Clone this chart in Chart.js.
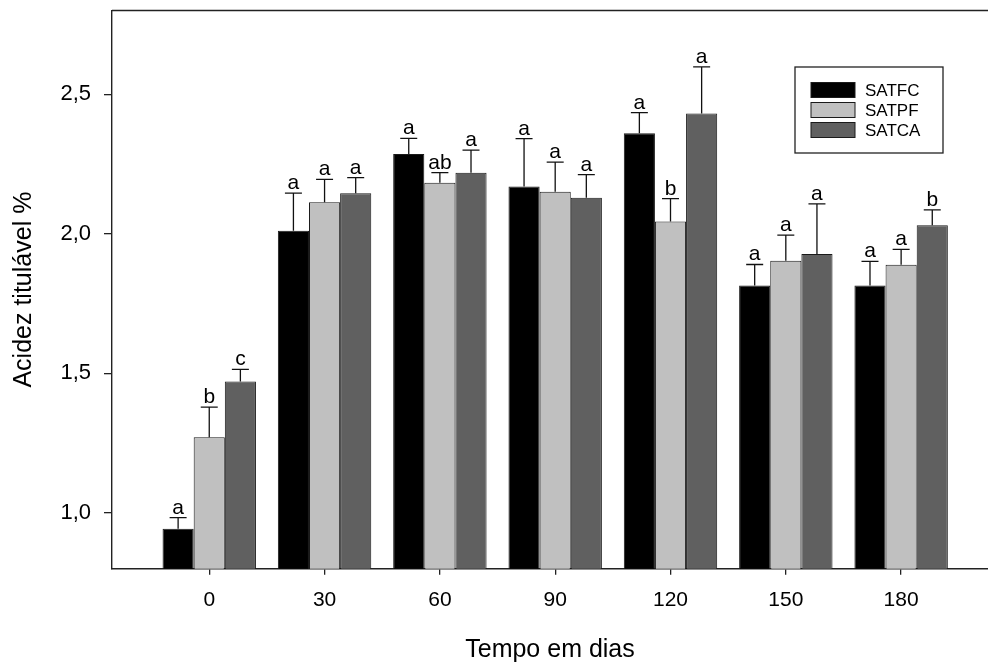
<!DOCTYPE html>
<html>
<head>
<meta charset="utf-8">
<title>Acidez titulável</title>
<script src="https://cdn.jsdelivr.net/npm/chart.js"></script>
<style>
  html, body { margin: 0; padding: 0; background: #fff; }
  #wrap { width: 988px; height: 664px; }
</style>
</head>
<body>
<div id="wrap"><canvas id="acidezChart" width="988" height="664"></canvas></div>
<script>
// tempo (dias)
const days = [0, 30, 60, 90, 120, 150, 180];

// médias e desvios por tratamento
const satfc = [0.943, 2.011, 2.286, 2.169, 2.360, 1.815, 1.815];
const satfcErr = [0.040, 0.135, 0.056, 0.172, 0.074, 0.075, 0.086];
const satfcLetters = ['a', 'a', 'a', 'a', 'a', 'a', 'a'];

const satpf = [1.271, 2.113, 2.183, 2.151, 2.044, 1.903, 1.889];
const satpfErr = [0.108, 0.082, 0.036, 0.106, 0.082, 0.092, 0.055];
const satpfLetters = ['b', 'a', 'ab', 'a', 'b', 'a', 'a'];

const satca = [1.471, 2.145, 2.219, 2.129, 2.431, 1.928, 2.031];
const satcaErr = [0.043, 0.056, 0.081, 0.083, 0.167, 0.179, 0.055];
const satcaLetters = ['c', 'a', 'a', 'a', 'a', 'a', 'b'];

const yTicks = [1.0, 1.5, 2.0, 2.5];
const xTicks = days;

const FONT = '"Liberation Sans", Arial, Helvetica, sans-serif';
Chart.defaults.font.family = FONT;
Chart.defaults.color = '#000';

function toPoints(values) {
  return days.map((d, i) => ({ x: d, y: values[i] }));
}

// barras de erro (só para cima) com letras
const errorBars = {
  id: 'errorBars',
  afterDatasetsDraw(chart) {
    const ctx = chart.ctx;
    const yScale = chart.scales.y;
    ctx.save();
    ctx.strokeStyle = '#111';
    ctx.lineWidth = 1.3;
    ctx.fillStyle = '#000';
    ctx.font = '21px ' + FONT;
    ctx.textAlign = 'center';
    ctx.textBaseline = 'alphabetic';
    chart.data.datasets.forEach((ds, i) => {
      chart.getDatasetMeta(i).data.forEach((bar, j) => {
        const yBar = yScale.getPixelForValue(ds.data[j].y);
        const yTop = yScale.getPixelForValue(ds.data[j].y + ds.errors[j]);
        ctx.beginPath();
        ctx.moveTo(bar.x, yBar);
        ctx.lineTo(bar.x, yTop);
        ctx.moveTo(bar.x - 8.5, yTop);
        ctx.lineTo(bar.x + 8.5, yTop);
        ctx.stroke();
        ctx.fillText(ds.letters[j], bar.x, yTop - 4);
      });
    });
    ctx.restore();
  }
};

// linha superior da moldura
const topFrame = {
  id: 'topFrame',
  afterDraw(chart) {
    const { ctx, chartArea } = chart;
    ctx.save();
    ctx.strokeStyle = '#222';
    ctx.lineWidth = 1.4;
    ctx.beginPath();
    ctx.moveTo(chartArea.left, chartArea.top);
    ctx.lineTo(chartArea.right, chartArea.top);
    ctx.stroke();
    ctx.restore();
  }
};

// legenda dentro da área do gráfico
const boxLegend = {
  id: 'boxLegend',
  afterDraw(chart) {
    const ctx = chart.ctx;
    const left = 795, top = 67, w = 148, h = 86;
    ctx.save();
    ctx.strokeStyle = '#222';
    ctx.lineWidth = 1.3;
    ctx.fillStyle = '#fff';
    ctx.fillRect(left, top, w, h);
    ctx.strokeRect(left, top, w, h);
    ctx.font = '17px ' + FONT;
    ctx.textAlign = 'left';
    ctx.textBaseline = 'middle';
    chart.data.datasets.forEach((ds, i) => {
      const cy = top + 23 + i * 20;
      ctx.fillStyle = ds.backgroundColor;
      ctx.fillRect(811, cy - 7.5, 44, 15);
      ctx.lineWidth = 1;
      ctx.strokeStyle = '#1a1a1a';
      ctx.strokeRect(811, cy - 7.5, 44, 15);
      ctx.fillStyle = '#000';
      ctx.fillText(ds.label, 865, cy + 1);
    });
    ctx.restore();
  }
};

new Chart(document.getElementById('acidezChart').getContext('2d'), {
  type: 'bar',
  data: {
    datasets: [
      { label: 'SATFC', data: toPoints(satfc), errors: satfcErr, letters: satfcLetters,
        backgroundColor: '#000000', borderColor: '#1a1a1a', borderWidth: 1 },
      { label: 'SATPF', data: toPoints(satpf), errors: satpfErr, letters: satpfLetters,
        backgroundColor: '#c0c0c0', borderColor: '#1a1a1a', borderWidth: 1 },
      { label: 'SATCA', data: toPoints(satca), errors: satcaErr, letters: satcaLetters,
        backgroundColor: '#606060', borderColor: '#1a1a1a', borderWidth: 1 }
    ]
  },
  options: {
    responsive: false,
    animation: false,
    categoryPercentage: 0.81,
    barPercentage: 1.0,
    layout: { padding: { top: 10.5, left: 0, right: 0, bottom: 0 } },
    plugins: {
      legend: { display: false },
      tooltip: { enabled: false }
    },
    scales: {
      x: {
        type: 'linear',
        offset: false,
        min: -25.3,
        max: 202.6,
        afterBuildTicks: (scale) => { scale.ticks = xTicks.map(v => ({ value: v })); },
        afterFit: (scale) => { scale.height = 95.3; scale.paddingLeft = 0; scale.paddingRight = 0; },
        grid: { display: true, offset: false, drawOnChartArea: false, drawTicks: true, tickLength: 6, color: '#222', lineWidth: 1.3 },
        border: { display: true, color: '#222', width: 1.4 },
        ticks: { font: { size: 21 }, padding: 13, color: '#000', callback: (v) => String(v) },
        title: { display: true, text: 'Tempo em dias', font: { size: 25, lineHeight: 1.1 }, padding: 0, color: '#000' }
      },
      y: {
        min: 0.8,
        max: 2.8,
        beginAtZero: false,
        afterBuildTicks: (scale) => { scale.ticks = yTicks.map(v => ({ value: v })); },
        afterFit: (scale) => { scale.width = 112; scale.paddingTop = 0; scale.paddingBottom = 0; },
        grid: { display: true, drawOnChartArea: false, drawTicks: true, tickLength: 8, color: '#222', lineWidth: 1.3 },
        border: { display: true, color: '#222', width: 1.4 },
        ticks: { font: { size: 22 }, padding: 13, color: '#000', callback: (v) => v.toFixed(1).replace('.', ',') },
        title: { display: true, text: 'Acidez titulável %', font: { size: 25 }, padding: { top: 9, bottom: 0 }, color: '#000' }
      }
    }
  },
  plugins: [errorBars, topFrame, boxLegend]
});
</script>
</body>
</html>
